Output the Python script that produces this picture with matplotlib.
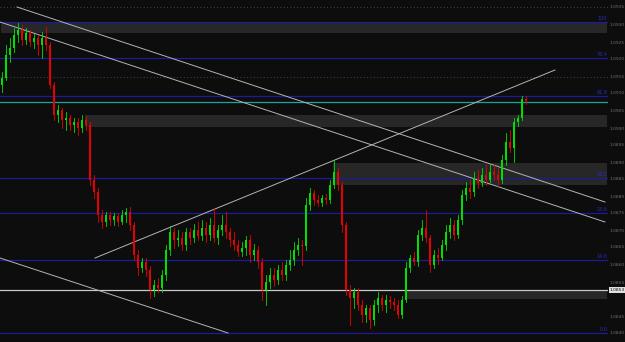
import matplotlib
matplotlib.use("Agg")
import matplotlib.pyplot as plt
from matplotlib.patches import Rectangle
import numpy as np

# ---- data (price units) ----
first_open = 257
close = [264,287,294,307,312,302,309,300,304,297,304,297,257,227,232,222,224,217,220,214,
         222,217,162,150,127,120,127,122,126,120,127,130,117,87,74,80,72,52,57,54,
         67,92,110,102,104,97,110,104,112,106,114,107,117,104,112,117,110,102,97,90,
         94,102,87,92,80,52,60,67,62,72,67,77,82,92,97,96,137,149,142,139,
         144,142,157,170,157,117,52,44,50,37,27,34,22,37,44,37,42,40,37,27,
         42,74,84,80,107,114,104,77,87,84,97,110,117,107,122,147,154,150,164,159,
         167,162,170,167,162,182,200,194,220,224,243,241]
high = [270,297,304,314,319,317,314,312,308,307,310,315,300,260,237,234,230,227,224,224,
        227,226,220,167,154,132,130,130,129,129,132,134,135,120,92,84,84,76,62,64,
        72,97,116,114,112,110,114,114,118,120,122,120,124,134,117,127,130,114,110,102,
        100,106,107,98,96,84,67,74,74,77,80,82,92,100,104,102,144,154,152,147,
        147,148,162,182,174,160,120,57,54,54,42,37,37,42,50,47,47,46,44,42,
        46,80,87,90,112,122,132,107,92,94,102,117,124,122,127,152,160,162,170,172,
        174,177,177,177,174,187,209,212,224,227,246,246]
low = [250,262,280,290,300,297,298,296,294,287,284,292,254,222,220,214,212,212,210,207,
       210,212,157,144,120,114,116,117,117,116,118,120,112,82,67,70,66,44,46,50,
       50,62,87,94,96,92,92,98,100,102,102,100,102,100,98,107,104,96,92,86,
       86,87,80,82,74,42,37,54,56,58,62,62,72,77,87,77,92,132,137,136,
       136,138,139,154,152,110,47,17,34,32,20,20,14,17,30,32,30,34,32,24,
       24,40,70,77,76,102,100,70,74,78,82,92,104,102,104,118,142,144,146,154,
       156,157,160,162,156,159,177,190,180,216,222,238]

# horizontal levels
fib_levels = [320, 284, 246, 164, 129, 82, 9]
fib_labels = ["100", "76.4", "61.8", "38.2", "23.6", "14.6", "0.0"]
cyan_level = 240
white_level = 52
white_label = "1.0853"
dotted_levels = [335, 265]

# zones: (start index, low price, high price)
zone_start = [0, 21, 83, 101]
zone_low = [309, 215, 157, 43]
zone_high = [320, 227, 179, 52]

# trendlines: (x0, y0, x1, y1) in (bar index, price)
trend_x0 = [3.75, -0.5, 23.25, -0.5]
trend_y0 = [335, 320, 84, 84]
trend_x1 = [150.75, 150.75, 138.25, 56.5]
trend_y1 = [140, 120, 272, 9]

tick_prices = [335, 318, 300, 283, 266, 249, 232, 214, 197, 180, 163, 146, 129, 112, 95, 77, 60, 26, 9]
tick_labels = ["1.0935", "1.0930", "1.0925", "1.0920", "1.0915", "1.0910", "1.0905",
               "1.0900", "1.0895", "1.0890", "1.0885", "1.0880", "1.0875", "1.0870",
               "1.0865", "1.0860", "1.0855", "1.0845", "1.0840"]

# ---- figure ----
BG = "#0d0d0d"
plt.rcParams['hatch.color'] = '#3c3c3c'
plt.rcParams['hatch.linewidth'] = 0.5
fig = plt.figure(figsize=(6.25, 3.42), dpi=100, facecolor=BG)
ax = fig.add_axes([0, 0, 608 / 625, 1], facecolor=BG)
n = len(close)
ax.set_xlim(-0.5, 151.5)
ax.set_ylim(0, 342)

opens = [first_open] + close[:-1]

# zones
for s, lo, hi in zip(zone_start, zone_low, zone_high):
    ax.add_patch(Rectangle((s - 0.3, lo), 151.5 - s, hi - lo, facecolor="#272727",
                           edgecolor="none", hatch="....", zorder=1))

for lv in dotted_levels:
    ax.axhline(lv, color="#5a5a5a", lw=0.6, ls=(0, (1, 3)), zorder=2)
for lv, lb in zip(fib_levels, fib_labels):
    ax.axhline(lv, color="#1c1c96", lw=0.9, zorder=2)
    ax.text(151.3, lv + 1, lb, color="#2a2ac0", fontsize=3.5, ha="right", va="bottom", zorder=3)
ax.axhline(cyan_level, color="#1aa39a", lw=0.9, zorder=2)
ax.axhline(white_level, color="#c8c8c8", lw=0.9, zorder=2)

for x0, y0, x1, y1 in zip(trend_x0, trend_y0, trend_x1, trend_y1):
    ax.plot([x0, x1], [y0, y1], color="#b4b4b4", lw=0.7, zorder=3)

# candles
for i in range(n):
    o, c, h, l = opens[i], close[i], high[i], low[i]
    col = "#00e000" if c >= o else "#e80000"
    ax.plot([i, i], [l, h], color=col, lw=0.6, zorder=4)
    ax.add_patch(Rectangle((i - 0.3, min(o, c)), 0.6, max(abs(c - o), 0.8),
                           facecolor=col, edgecolor="none", zorder=5))

# axis
ax.yaxis.tick_right()
ax.set_yticks(tick_prices)
ax.set_yticklabels(tick_labels)
ax.tick_params(axis="y", length=0, pad=1.0, labelsize=3.2, labelcolor="#707070")
ax.set_xticks([])
for sp in ax.spines.values():
    sp.set_visible(False)

ax.text(1.002, white_level, white_label, transform=ax.get_yaxis_transform(),
        fontsize=3.2, color="#111111", va="center", ha="left", zorder=6,
        bbox=dict(boxstyle="square,pad=0.12", facecolor="#e0e0e0", edgecolor="none"),
        clip_on=False)

fig.savefig("out.png", dpi=100, facecolor=BG)
